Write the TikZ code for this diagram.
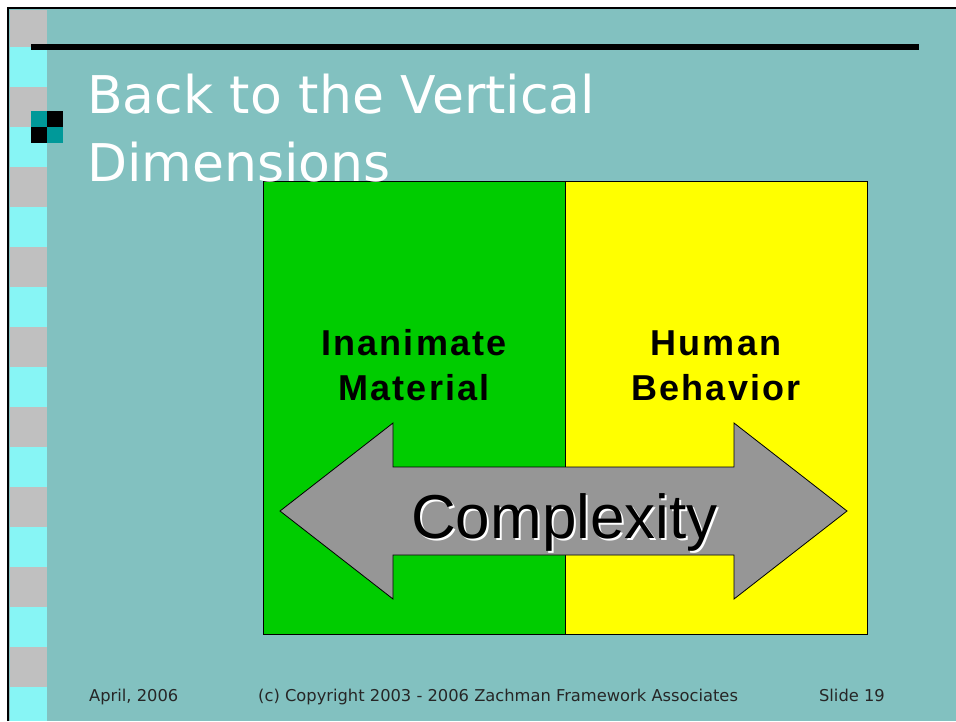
\documentclass[tikz,border=0pt]{standalone}
\usepackage{fontspec}
\setmainfont{Liberation Sans}
\newfontfamily\titlefont{DejaVu Sans}
\newfontfamily\footfont{DejaVu Sans}
\newfontfamily\boxfont[LetterSpace=6]{Liberation Sans}
\usetikzlibrary{positioning}
\definecolor{slidebg}{RGB}{130,193,192}
\definecolor{stripgray}{RGB}{192,192,192}
\definecolor{stripcyan}{RGB}{135,245,245}
\definecolor{bullteal}{RGB}{0,153,153}
\definecolor{boxgreen}{RGB}{0,204,0}
\definecolor{boxyellow}{RGB}{255,255,0}
\definecolor{arrowgray}{RGB}{150,150,150}
\begin{document}
\begin{tikzpicture}[x=1pt, y=-1pt,
    band/.style={fill=stripcyan, draw=none},
    cell/.style={draw=black, line width=1pt, outer sep=0pt, inner sep=0pt, minimum width=302pt, minimum height=453pt},
    boxlabel/.style={font=\boxfont\bfseries\fontsize{36}{45}\selectfont, align=center, anchor=base},
    titletext/.style={font=\titlefont\fontsize{52}{60}\selectfont, text=white, anchor=base west, inner sep=0pt},
    cplxtext/.style={font=\fontsize{62}{70}\selectfont, anchor=base, inner sep=0pt},
    footer/.style={font=\footfont\fontsize{16.3}{19}\selectfont, text=black!85, inner sep=0pt}]
  \useasboundingbox (0,0) rectangle (956,721);
  % slide background and frame
  \fill[white] (0,0) rectangle (956,721);
  \fill[slidebg] (8,8) rectangle (956,721);
  \fill[stripgray] (10,10) rectangle (47,721);
  \fill[band] (10,47) rectangle (47,87);   \fill[band] (10,127) rectangle (47,167);
  \fill[band] (10,207) rectangle (47,247); \fill[band] (10,287) rectangle (47,327);
  \fill[band] (10,367) rectangle (47,407); \fill[band] (10,447) rectangle (47,487);
  \fill[band] (10,527) rectangle (47,567); \fill[band] (10,607) rectangle (47,647);
  \fill[band] (10,687) rectangle (47,721);
  \draw[line width=2.5pt] (8,721) -- (8,8) -- (956,8);
  \draw[line width=6pt] (31,47) -- (919,47);
  % bullet
  \fill[bullteal] (31,111) rectangle (47,127); \fill[black] (47,111) rectangle (63,127);
  \fill[black] (31,127) rectangle (47,143);    \fill[bullteal] (47,127) rectangle (63,143);
  % the two halves
  \node[cell, fill=boxgreen] (green) at (414,407.5) {};
  \node[cell, fill=boxyellow, right=0pt of green] (yellow) {};
  \node[boxlabel] (inanimate) at (414,400) {Inanimate\\Material};
  \node[boxlabel] (human) at (716,400) {Human\\Behavior};
  % double arrow
  \draw[fill=arrowgray, line width=0.8pt, line join=miter]
    (280,511) -- (393,423) -- (393,467) -- (734,467) -- (734,423) -- (847,511)
    -- (734,599) -- (734,555) -- (393,555) -- (393,599) -- cycle;
  \node[cplxtext, text=white] (cplxshadow) at (566.5,540.5) {Complexity};
  \node[cplxtext] (cplx) at (564.5,538) {Complexity};
  % title
  \node[titletext] (title1) at (87,113) {Back to the Vertical};
  \node[titletext] (title2) at (87,181) {Dimensions};
  % footer
  \node[footer, anchor=base west] (date) at (89,701) {April, 2006};
  \node[footer, anchor=base west] (copy) at (258,701) {(c) Copyright 2003 - 2006 Zachman Framework Associates};
  \node[footer, anchor=base east] (slide) at (885,701) {Slide 19};
\end{tikzpicture}
\end{document}
